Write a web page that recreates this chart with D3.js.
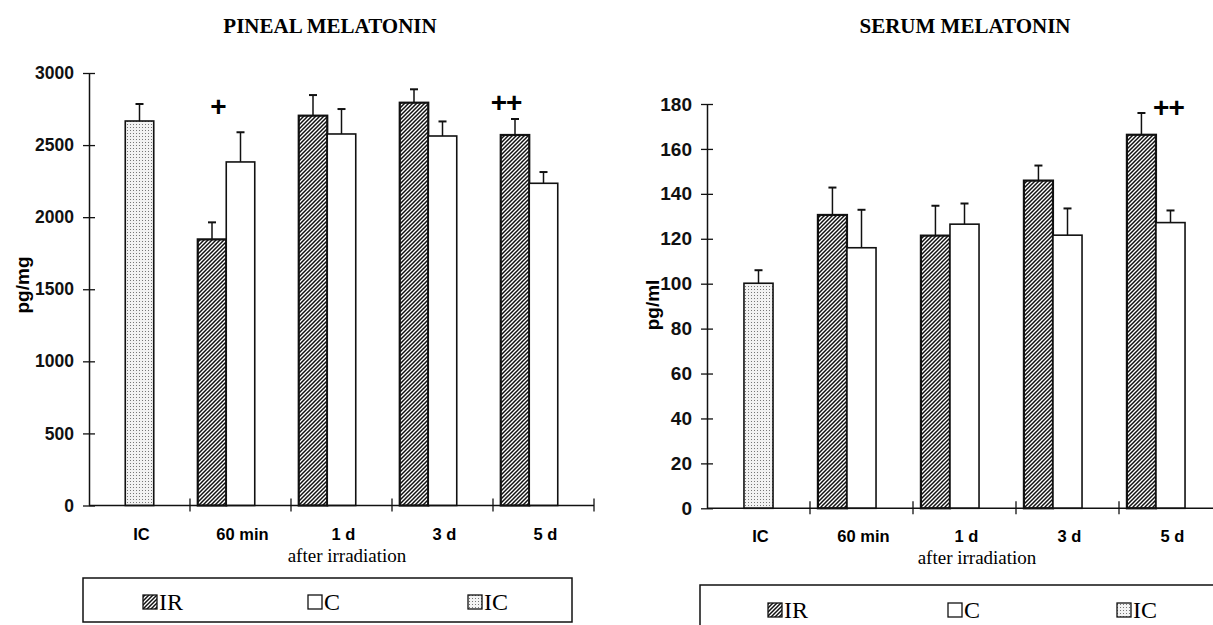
<!DOCTYPE html>
<html>
<head>
<meta charset="utf-8">
<script src="https://cdn.jsdelivr.net/npm/d3@7"></script>
<style>
  body { margin: 0; background: #fff; }
  svg { display: block; }
</style>
</head>
<body>
<svg id="chart" width="1213" height="625"></svg>
<script>
    'use strict';

    // data
    var categories = ['IC', '60 min', '1 d', '3 d', '5 d'];
    var series = ['IR', 'C', 'IC'];

    var pinealIR    = [null, 1846, 2704, 2794, 2570];
    var pinealIRErr = [null, 118, 143, 93, 111];
    var pinealC     = [null, 2383, 2577, 2563, 2235];
    var pinealCErr  = [null, 206, 173, 101, 78];
    var pinealIC    = [2667, null, null, null, null];
    var pinealICErr = [118, null, null, null, null];
    var pinealMarks = [null, '+', null, null, '++'];
    var pinealMarkAt = [null, 2765, null, null, 2790];
    var pinealTicks = [0, 500, 1000, 1500, 2000, 2500, 3000];

    var serumIR    = [null, 130.6, 121.4, 145.9, 166.3];
    var serumIRErr = [null, 12.2, 13.3, 6.7, 9.7];
    var serumC     = [null, 116, 126.5, 121.6, 127.2];
    var serumCErr  = [null, 16.9, 9.2, 11.9, 5.4];
    var serumIC    = [100.2, null, null, null, null];
    var serumICErr = [5.8, null, null, null, null];
    var serumMarks = [null, null, null, null, '++'];
    var serumMarkAt = [null, null, null, null, 178];
    var serumTicks = [0, 20, 40, 60, 80, 100, 120, 140, 160, 180];

    var svg = d3.select('#chart');
    var defs = svg.append('defs');

    // hatched fill (IR)
    var hatch = defs.append('pattern').attr('id', 'hatch')
        .attr('patternUnits', 'userSpaceOnUse').attr('width', 4).attr('height', 4);
    hatch.append('rect').attr('width', 4).attr('height', 4).attr('fill', '#fff');
    hatch.append('path').attr('d', 'M-1,1 l2,-2 M0,4 l4,-4 M3,5 l2,-2')
        .attr('stroke', '#111').attr('stroke-width', 1.5);

    // dotted fill (IC)
    var dots = defs.append('pattern').attr('id', 'dots')
        .attr('patternUnits', 'userSpaceOnUse').attr('width', 3).attr('height', 3);
    dots.append('rect').attr('width', 3).attr('height', 3).attr('fill', '#f2f2f2');
    dots.append('rect').attr('x', 1).attr('y', 1).attr('width', 1).attr('height', 1).attr('fill', '#777');

    var fills = {IR: 'url(#hatch)', C: '#fff', IC: 'url(#dots)'};
    var strokeW = {IR: 2.2, C: 1.6, IC: 1.6};
    // the IC bar sits in the middle slot of its group
    var slotOf = {IR: 'IR', C: 'C', IC: 'C'};

    var sans = '"Liberation Sans", Arial, sans-serif';
    var serif = '"Liberation Serif", "Times New Roman", serif';

    function panel(o) {
        var g = svg.append('g');

        var y = d3.scaleLinear().domain(o.domain).range([o.y0, o.y1]);
        var x = d3.scaleBand().domain(categories).range([o.x0, o.x1]);
        var slot = d3.scaleBand().domain(series).range([0, x.bandwidth()]).paddingOuter(0.272);

        // title
        g.append('text')
            .attr('x', o.titleX).attr('y', 33)
            .attr('text-anchor', 'middle')
            .style('font-family', serif)
            .style('font-weight', 'bold').style('font-size', '21px')
            .text(o.title);

        // y label
        g.append('text')
            .attr('transform', 'translate(' + o.ylabX + ',' + o.ylabY + ') rotate(-90)')
            .attr('text-anchor', 'middle')
            .style('font-family', sans)
            .style('font-weight', 'bold').style('font-size', '19px')
            .text(o.ylabel);

        // bars
        var rows = [];
        categories.forEach(function(c, i) {
            series.forEach(function(s) {
                var v = o.values[s][i];
                if (v == null) return;
                rows.push({cat: c, s: s, v: v, e: o.errs[s][i]});
            });
        });

        var bx = function(d) { return x(d.cat) + slot(slotOf[d.s]); };
        var cx = function(d) { return bx(d) + slot.bandwidth() / 2; };

        // error bars
        g.selectAll('line.err').data(rows).enter().append('line')
            .attr('x1', cx).attr('x2', cx)
            .attr('y1', function(d) { return y(d.v); })
            .attr('y2', function(d) { return y(d.v + d.e); })
            .attr('stroke', '#111').attr('stroke-width', 1.5);
        g.selectAll('line.cap').data(rows).enter().append('line')
            .attr('x1', function(d) { return cx(d) - 4; })
            .attr('x2', function(d) { return cx(d) + 4; })
            .attr('y1', function(d) { return y(d.v + d.e); })
            .attr('y2', function(d) { return y(d.v + d.e); })
            .attr('stroke', '#111').attr('stroke-width', 2);

        g.selectAll('rect.bar').data(rows).enter().append('rect')
            .attr('x', bx)
            .attr('y', function(d) { return y(d.v); })
            .attr('width', slot.bandwidth())
            .attr('height', function(d) { return y(0) - y(d.v); })
            .attr('fill', function(d) { return fills[d.s]; })
            .attr('stroke', '#111')
            .attr('stroke-width', function(d) { return strokeW[d.s]; });

        // significance marks
        o.marks.forEach(function(m, i) {
            if (!m) return;
            var c = categories[i];
            g.append('text')
                .attr('x', x(c) + slot('IR') + slot.bandwidth() / 2 + o.markDx[i])
                .attr('y', y(o.markAt[i]) + 9)
                .attr('text-anchor', 'middle')
                .style('font-family', sans)
                .style('font-weight', 'bold').style('font-size', '28px')
                .style('letter-spacing', '-1px')
                .text(m);
        });

        // axes
        var yAxis = d3.axisLeft(y).tickValues(o.ticks).tickFormat(d3.format('d'))
            .tickSizeInner(6).tickSizeOuter(0).tickPadding(9);
        var ya = g.append('g').attr('transform', 'translate(' + o.x0 + ',0)').call(yAxis);
        ya.selectAll('.tick line').attr('x2', 6).attr('x1', -6);
        ya.selectAll('text')
            .style('font-family', sans)
            .style('font-weight', 'bold').style('font-size', o.tickFont).attr('fill', '#111');
        ya.select('.domain').attr('stroke', '#111').attr('stroke-width', 1.5);
        ya.selectAll('.tick line').attr('stroke', '#111').attr('stroke-width', 1.3);

        var xa = g.append('g').attr('transform', 'translate(0,' + o.y0 + ')');
        xa.append('line').attr('x1', o.x0).attr('x2', o.x1).attr('stroke', '#111').attr('stroke-width', 1.5);
        xa.selectAll('line.xt').data(categories.slice(1).concat(['end'])).enter().append('line')
            .attr('x1', function(d) { return d === 'end' ? o.x1 : x(d); })
            .attr('x2', function(d) { return d === 'end' ? o.x1 : x(d); })
            .attr('y1', -7).attr('y2', 6)
            .attr('stroke', '#111').attr('stroke-width', 1.3);
        xa.selectAll('text.cat').data(categories).enter().append('text')
            .attr('x', function(d) { return x(d) + x.bandwidth() / 2 + 2; })
            .attr('y', 34)
            .attr('text-anchor', 'middle')
            .style('font-family', sans)
            .style('font-weight', 'bold').style('font-size', '16.5px')
            .text(function(d) { return d; });

        g.append('text')
            .attr('x', o.afterX).attr('y', o.y0 + 56)
            .attr('text-anchor', 'middle')
            .style('font-family', serif)
            .style('font-size', '19px')
            .text('after irradiation');

        // legend
        var lg = g.append('g');
        lg.append('rect')
            .attr('x', o.leg.x).attr('y', o.leg.y).attr('width', o.leg.w).attr('height', o.leg.h)
            .attr('fill', 'none').attr('stroke', '#111').attr('stroke-width', 1.5);
        series.forEach(function(s, i) {
            var sx = o.leg.items[i];
            lg.append('rect')
                .attr('x', sx).attr('y', o.leg.cy - 7).attr('width', 14).attr('height', 14)
                .attr('fill', fills[s]).attr('stroke', '#111').attr('stroke-width', 1.3);
            lg.append('text')
                .attr('x', sx + 16).attr('y', o.leg.cy + 8)
                .style('font-family', serif)
                .style('font-size', '24px')
                .text(s);
        });
    }

    panel({
        title: 'PINEAL MELATONIN', titleX: 330,
        ylabel: 'pg/mg', ylabX: 29, ylabY: 285,
        domain: [0, 3000], ticks: pinealTicks, tickFont: '17.5px',
        x0: 89, x1: 594, y0: 505.5, y1: 73,
        values: {IR: pinealIR, C: pinealC, IC: pinealIC},
        errs: {IR: pinealIRErr, C: pinealCErr, IC: pinealICErr},
        marks: pinealMarks, markAt: pinealMarkAt, markDx: [0, 6, 0, 0, -9],
        afterX: 347,
        leg: {x: 83, y: 578, w: 489, h: 44, cy: 602, items: [143, 308, 468]}
    });

    panel({
        title: 'SERUM MELATONIN', titleX: 965,
        ylabel: 'pg/ml', ylabX: 659, ylabY: 305,
        domain: [0, 180], ticks: serumTicks, tickFont: '19px',
        x0: 707, x1: 1222, y0: 508.3, y1: 104,
        values: {IR: serumIR, C: serumC, IC: serumIC},
        errs: {IR: serumIRErr, C: serumCErr, IC: serumICErr},
        marks: serumMarks, markAt: serumMarkAt, markDx: [0, 0, 0, 0, 27],
        afterX: 977,
        leg: {x: 700, y: 585, w: 540, h: 60, cy: 610, items: [768, 948, 1117]}
    });
</script>
</body>
</html>
